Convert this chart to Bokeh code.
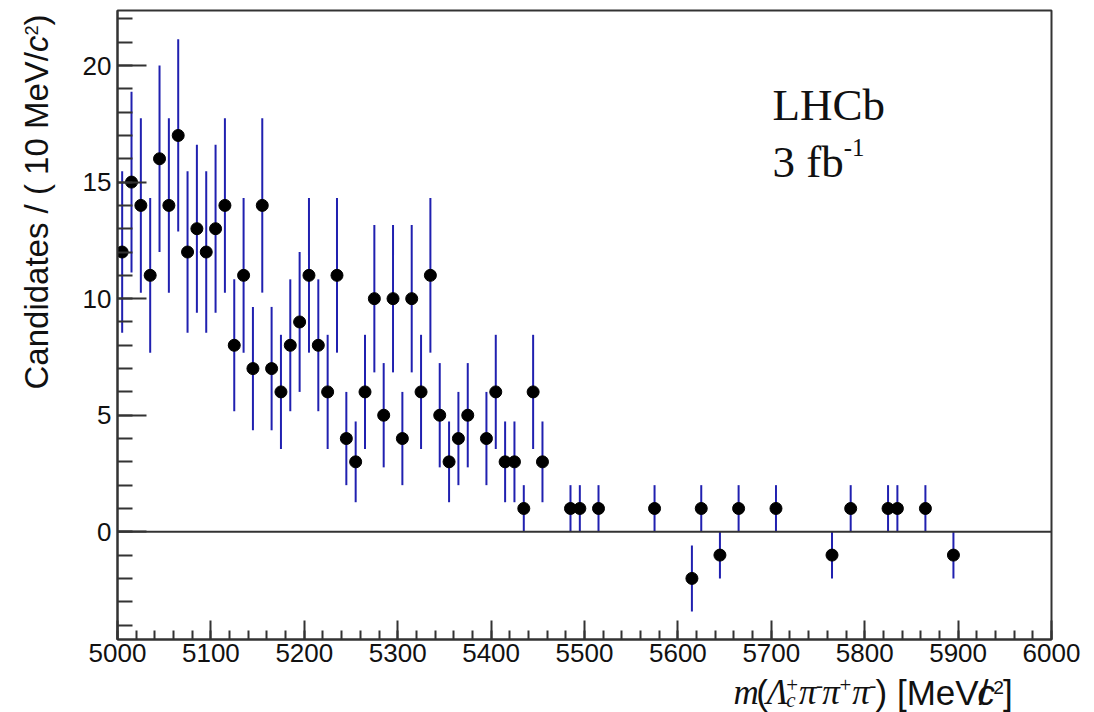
import numpy as np
from bokeh.plotting import figure
from bokeh.models import ColumnDataSource, Label, Span, SingleIntervalTicker, Range1d
from bokeh.layouts import row, column
from bokeh.embed import file_html
from bokeh.resources import INLINE

# ---------------- data (bin centres in MeV/c^2, weighted candidates) ----------------
mass = [5005, 5015, 5025, 5035, 5045, 5055, 5065, 5075, 5085, 5095,
        5105, 5115, 5125, 5135, 5145, 5155, 5165, 5175, 5185, 5195,
        5205, 5215, 5225, 5235, 5245, 5255, 5265, 5275, 5285, 5295,
        5305, 5315, 5325, 5335, 5345, 5355, 5365, 5375, 5395, 5405,
        5415, 5425, 5435, 5445, 5455, 5485, 5495, 5515, 5575, 5615,
        5625, 5645, 5665, 5705, 5765, 5785, 5825, 5835, 5865, 5895]
counts = [12, 15, 14, 11, 16, 14, 17, 12, 13, 12,
          13, 14, 8, 11, 7, 14, 7, 6, 8, 9,
          11, 8, 6, 11, 4, 3, 6, 10, 5, 10,
          4, 10, 6, 11, 5, 3, 4, 5, 4, 6,
          3, 3, 1, 6, 3, 1, 1, 1, 1, -2,
          1, -1, 1, 1, -1, 1, 1, 1, 1, -1]
errors = list(np.sqrt(np.abs(counts)))  # Poisson uncertainty of each bin

x_ticks_major = 100
y_ticks_major = 5
X0, X1 = 5000, 6000
Y0, Y1 = -4.62, 22.36

# ---------------- layout (page has no margin in Bokeh's template) ----------------
PW, PH = 1094, 712
LW = 60                 # left strip for the y title
BH = 40                 # bottom strip for the x title
MW, MH = PW - LW, PH - BH
FL, FR, FT, FB = 117, 1051, 10, 639   # frame edges on the page
BL, BR, BT, BB = FL - LW, PW - FR, FT, MH - FB

p = figure(width=MW, height=MH, output_backend="svg", toolbar_location=None,
           x_range=Range1d(X0, X1), y_range=Range1d(Y0, Y1),
           min_border_left=BL, min_border_right=BR, min_border_top=BT, min_border_bottom=BB)
p.background_fill_color = "white"
p.border_fill_color = "white"
p.grid.visible = False
p.outline_line_color = "#333333"
p.outline_line_width = 2

for ax, interval, tin, min_in in ((p.xaxis[0], x_ticks_major, 19, 9), (p.yaxis[0], y_ticks_major, 29, 15)):
    ax.ticker = SingleIntervalTicker(interval=interval, num_minor_ticks=5)
    ax.major_tick_in = tin
    ax.major_tick_out = 0
    ax.minor_tick_in = min_in
    ax.minor_tick_out = 0
    ax.major_tick_line_color = "#333333"
    ax.minor_tick_line_color = "#333333"
    ax.major_tick_line_width = 2
    ax.minor_tick_line_width = 2
    ax.axis_line_color = "#333333"
    ax.axis_line_width = 2
    ax.major_label_text_font = "Liberation Sans"
    ax.major_label_text_font_size = "26px"
    ax.major_label_text_color = "#111111"
p.xaxis.major_label_standoff = 4
p.yaxis.major_label_standoff = 6

p.add_layout(Span(location=0, dimension="width", line_color="#333333", line_width=2))

src = ColumnDataSource(dict(x=mass, y=counts,
                            lo=[c - e for c, e in zip(counts, errors)],
                            hi=[c + e for c, e in zip(counts, errors)]))
p.segment(x0="x", y0="lo", x1="x", y1="hi", source=src, line_color="#2020b0", line_width=2)
p.scatter(x="x", y="y", source=src, size=12, fill_color="black", line_color="black")


def text_fig(w, h):
    f = figure(width=w, height=h, output_backend="svg", toolbar_location=None,
               x_range=Range1d(0, w), y_range=Range1d(0, h),
               x_axis_type=None, y_axis_type=None, min_border=0)
    f.grid.visible = False
    f.outline_line_color = None
    f.background_fill_color = "white"
    f.border_fill_color = "white"
    return f


left = text_fig(LW, PH)
bottom = text_fig(MW, BH)

SANS = {' ': 278, '(': 333, ')': 333, '/': 278, '[': 278, ']': 278, 'C': 722, 'a': 556,
        'n': 556, 'd': 556, 'i': 222, 't': 278, 'e': 556, 's': 500, 'M': 833, 'V': 667,
        'c': 500, '+': 584, '-': 333}
SERIF = {'L': 611, 'H': 722, 'C': 667, 'b': 500, ' ': 250, 'f': 333, '-': 333,
         'm': 722, 'Λ': 611, 'π': 540, 'c': 444, '+': 675, '(': 333, ')': 333}
S, R = "Liberation Sans", "Liberation Serif"
BASE_FIX = 0.345   # Label draws the alphabetic baseline ~0.345 em below its anchor


def width(text, fam):
    tab = SANS if fam == S else SERIF
    return sum(tab.get(ch, 556 if fam == S else 500) for ch in text) / 1000.0


def group_widths(groups, fs):
    return [max(width(t, f) * fs * sc for t, f, s, sc, r in g) for g in groups]


def run(fig, conv, groups, start, base, fs, vertical=False):
    """Place text pieces along a line; conv maps page pixels (px, py) to fig data."""
    pos = start
    for g, adv in zip(groups, group_widths(groups, fs)):
        for text, fam, style, sc, rise in g:
            up = rise * fs + BASE_FIX * fs * sc
            if vertical:
                x, y = conv(base - up, pos)
                lab = Label(x=x, y=y, text=text, angle=np.pi / 2)
            else:
                x, y = conv(pos, base - up)
                lab = Label(x=x, y=y, text=text)
            lab.text_font = fam
            lab.text_font_style = style
            lab.text_font_size = f"{fs * sc:.1f}px"
            lab.text_color = "#111111"
            lab.text_align = "left"
            lab.text_baseline = "alphabetic"
            fig.add_layout(lab)
        pos = pos - adv if vertical else pos + adv


def conv_main(px, py):
    return (X0 + (px - FL) * (X1 - X0) / (FR - FL), Y1 - (py - FT) * (Y1 - Y0) / (FB - FT))


def conv_left(px, py):
    return px, PH - py


def conv_bottom(px, py):
    return px - LW, PH - py


# x title
XFS = 35
x_title = [
    [("m", R, "italic", 1, 0)],
    [("(", S, "normal", 1, 0)],
    [("Λ", R, "italic", 1, 0)],
    [("c", R, "italic", 0.6, -0.08), ("+", R, "normal", 0.6, 0.34)],
    [("π", R, "italic", 1, 0)],
    [("-", R, "normal", 0.6, 0.36)],
    [("π", R, "italic", 1, 0)],
    [("+", R, "normal", 0.6, 0.34)],
    [("π", R, "italic", 1, 0)],
    [("-", R, "normal", 0.6, 0.36)],
    [(") [MeV/", S, "normal", 1, 0)],
    [("c", S, "italic", 1, 0)],
    [("2", S, "normal", 0.55, 0.29)],
    [("]", S, "normal", 1, 0)],
]
total = sum(group_widths(x_title, XFS))
run(bottom, conv_bottom, x_title, 1050 - total, 704, XFS)

# y title
YFS = 33
y_title = [
    [("Candidates / ( 10 MeV/", S, "normal", 1, 0)],
    [("c", S, "italic", 1, 0)],
    [("2", S, "normal", 0.55, 0.29)],
    [(" )", S, "normal", 1, 0)],
]
run(left, conv_left, y_title, 389, 47, YFS, vertical=True)

# experiment tag
run(p, conv_main, [[("LHCb", R, "normal", 1, 0)]], 772, 120, 45)
run(p, conv_main, [[("3 fb", R, "normal", 1, 0)], [("-1", R, "normal", 0.55, 0.47)]], 772, 177, 45)

layout = row(left, column(p, bottom, spacing=0), spacing=0)
open("out.html", "w").write(file_html(layout, INLINE))
